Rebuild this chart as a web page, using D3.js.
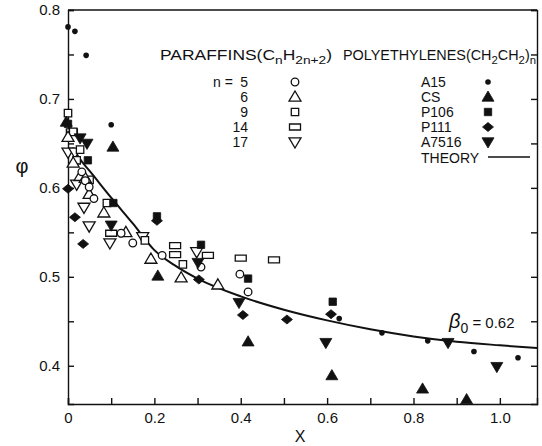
<!DOCTYPE html>
<html>
<head>
<meta charset="utf-8">
<script src="https://cdn.jsdelivr.net/npm/d3@7.9.0/dist/d3.min.js"></script>
<style>
  body { margin: 0; background: #fff; }
  svg { display: block; font-family: "Liberation Sans", "DejaVu Sans", sans-serif; }
  .axis text { font-size: 15px; fill: #111; }
  .axis line, .axis path { stroke: #111; stroke-width: 1.4; }
</style>
</head>
<body>
<svg id="chart" width="542" height="446"></svg>
<script>
// polyethylenes (filled markers): [x, phi]
const a15 = [[0.0, 0.781], [0.016, 0.776], [0.042, 0.749], [0.10, 0.671], [0.628, 0.453],
  [0.727, 0.437], [0.833, 0.428], [0.94, 0.416], [1.042, 0.409]];
const cs = [[-0.004, 0.674], [0.104, 0.646], [0.208, 0.501], [0.417, 0.427], [0.611, 0.389],
  [0.821, 0.374], [0.923, 0.362]];
const p106 = [[0.0, 0.672], [0.046, 0.631], [0.105, 0.583], [0.206, 0.568], [0.308, 0.536],
  [0.417, 0.498], [0.613, 0.472]];
const p111 = [[0.0, 0.599], [0.016, 0.567], [0.035, 0.537], [0.206, 0.563], [0.303, 0.497],
  [0.405, 0.457], [0.507, 0.452], [0.609, 0.458]];
const a7516 = [[0.028, 0.656], [0.044, 0.650], [0.10, 0.558], [0.301, 0.516], [0.396, 0.471],
  [0.597, 0.426], [0.88, 0.426], [0.993, 0.399]];

// paraffins (open markers)
const n5 = [[0.032, 0.618], [0.04, 0.608], [0.049, 0.601], [0.06, 0.588], [0.123, 0.549],
  [0.15, 0.538], [0.218, 0.524], [0.308, 0.511], [0.398, 0.503], [0.417, 0.483]];
const n6 = [[0.0, 0.657], [0.012, 0.628], [0.028, 0.613], [0.04, 0.611], [0.049, 0.593],
  [0.083, 0.572], [0.134, 0.55], [0.192, 0.52], [0.262, 0.499], [0.347, 0.491]];
const n9 = [[0.0, 0.684], [0.012, 0.663], [0.028, 0.643], [0.02, 0.631], [0.05, 0.609],
  [0.09, 0.583], [0.178, 0.541], [0.266, 0.514]];
const n14 = [[0.009, 0.663], [0.1, 0.549], [0.248, 0.535], [0.248, 0.525], [0.324, 0.524],
  [0.40, 0.521], [0.477, 0.519]];
const n17 = [[0.0, 0.640], [0.016, 0.64], [0.02, 0.604], [0.037, 0.578], [0.049, 0.557],
  [0.097, 0.538], [0.173, 0.545], [0.298, 0.528]];

// theory curve, beta0 = 0.62
const theoryX = [0.01, 0.033, 0.05, 0.1, 0.15, 0.2, 0.25, 0.3, 0.4, 0.5, 0.6, 0.7, 0.8, 0.9, 1.0, 1.086];
const theoryPhi = [0.645, 0.629, 0.619, 0.589, 0.560, 0.530, 0.512, 0.498, 0.478, 0.463, 0.451,
  0.441, 0.433, 0.427, 0.423, 0.420];

const xTicks = [0, 0.1, 0.2, 0.3, 0.4, 0.5, 0.6, 0.7, 0.8, 0.9, 1.0];
const yTicks = [0.4, 0.45, 0.5, 0.55, 0.6, 0.65, 0.7, 0.75, 0.8];

const paraffinLabels = ["5", "6", "9", "14", "17"];
const polyLabels = ["A15", "CS", "P106", "P111", "A7516"];

const svg = d3.select("#chart");
const x = d3.scaleLinear().domain([0, 1.086]).range([68, 537]);
const y = d3.scaleLinear().domain([0.357, 0.8]).range([404, 10]);

// marker shapes
function markerPath(type) {
  switch (type) {
    case "triUp": return "M0,-6L6,4.2L-6,4.2Z";
    case "triDown": return "M0,6L6,-4.2L-6,-4.2Z";
    case "square": return "M-3.7,-3.7H3.7V3.7H-3.7Z";
    case "rect": return "M-5.5,-3H5.5V3H-5.5Z";
    case "diamond": return "M-5.5,0L0,-4.5L5.5,0L0,4.5Z";
  }
}

function drawMarker(g, type, filled, px, py) {
  if (type === "dot") {
    g.append("circle").attr("cx", px).attr("cy", py).attr("r", 2.8).attr("fill", "#111");
  } else if (type === "circle") {
    g.append("circle").attr("cx", px).attr("cy", py).attr("r", 3.8)
      .attr("fill", "#fff").attr("stroke", "#111").attr("stroke-width", 1.3);
  } else {
    g.append("path").attr("d", markerPath(type))
      .attr("transform", `translate(${px},${py})`)
      .attr("fill", filled ? "#111" : "#fff")
      .attr("stroke", "#111").attr("stroke-width", filled ? 0.8 : 1.3);
  }
}

const series = [
  { data: n17, type: "triDown", filled: false },
  { data: n14, type: "rect", filled: false },
  { data: n9, type: "square", filled: false },
  { data: n6, type: "triUp", filled: false },
  { data: n5, type: "circle", filled: false },
  { data: a15, type: "dot", filled: true },
  { data: cs, type: "triUp", filled: true },
  { data: p106, type: "square", filled: true },
  { data: p111, type: "diamond", filled: true },
  { data: a7516, type: "triDown", filled: true },
];

// axes
const xAxis = d3.axisBottom(x).tickValues(xTicks).tickSize(-6).tickPadding(8)
  .tickFormat((d) => {
    const k = Math.round(d * 10);
    if (k % 2) return "";
    return k === 0 ? "0" : d3.format(".1f")(d);
  });
svg.append("g").attr("class", "axis").attr("transform", "translate(0,404)").call(xAxis);

const yAxis = d3.axisLeft(y).tickValues(yTicks).tickSize(-6).tickPadding(8)
  .tickFormat((d) => (Math.round(d * 100) % 10 ? "" : d3.format(".1f")(d)));
svg.append("g").attr("class", "axis").attr("transform", "translate(68,0)").call(yAxis);

svg.append("g").attr("class", "axis").attr("transform", "translate(537,0)")
  .call(d3.axisRight(y).tickValues(yTicks).tickSize(-6).tickFormat(""));

svg.append("line").attr("x1", 68).attr("x2", 537).attr("y1", 10).attr("y2", 10)
  .attr("stroke", "#111").attr("stroke-width", 1.4);

svg.append("text").attr("x", 300).attr("y", 442).attr("text-anchor", "middle")
  .attr("font-size", 16).attr("fill", "#111").text("X");
svg.append("text").attr("x", 22).attr("y", 173).attr("text-anchor", "middle")
  .attr("font-size", 20).attr("fill", "#111").text("φ");

// theory curve
const line = d3.line().x((d) => x(d[0])).y((d) => y(d[1])).curve(d3.curveMonotoneX);
svg.append("path").datum(d3.zip(theoryX, theoryPhi)).attr("d", line)
  .attr("fill", "none").attr("stroke", "#111").attr("stroke-width", 2);

// points
const pts = svg.append("g");
series.forEach((s) => {
  s.data.forEach((d) => drawMarker(pts, s.type, s.filled, x(d[0]), y(d[1])));
});

// legend
const lg = svg.append("g").attr("fill", "#111").attr("font-size", 14);
const t1 = lg.append("text").attr("x", 160).attr("y", 60)
  .attr("textLength", 172).attr("lengthAdjust", "spacingAndGlyphs");
t1.append("tspan").text("PARAFFINS(C");
t1.append("tspan").attr("dy", 4).attr("font-size", 11).text("n");
t1.append("tspan").attr("dy", -4).text("H");
t1.append("tspan").attr("dy", 4).attr("font-size", 11).text("2n+2");
t1.append("tspan").attr("dy", -4).text(")");

const t2 = lg.append("text").attr("x", 343).attr("y", 60)
  .attr("textLength", 193).attr("lengthAdjust", "spacingAndGlyphs");
t2.append("tspan").text("POLYETHYLENES(CH");
t2.append("tspan").attr("dy", 4).attr("font-size", 11).text("2");
t2.append("tspan").attr("dy", -4).text("CH");
t2.append("tspan").attr("dy", 4).attr("font-size", 11).text("2");
t2.append("tspan").attr("dy", -4).text(")");
t2.append("tspan").attr("dy", 4).attr("font-size", 11).text("n");

lg.append("text").attr("x", 213).attr("y", 87).text("n =");
const rowY = d3.scalePoint().domain(d3.range(5)).range([82, 142]);
paraffinLabels.forEach((lab, i) => {
  lg.append("text").attr("x", 248).attr("y", rowY(i) + 5).attr("text-anchor", "end").text(lab);
  drawMarker(lg, series[4 - i].type, false, 295, rowY(i));
});
polyLabels.forEach((lab, i) => {
  lg.append("text").attr("x", 421).attr("y", rowY(i) + 5).text(lab);
  drawMarker(lg, series[5 + i].type, true, 488, rowY(i));
});
lg.append("text").attr("x", 421).attr("y", 163).text("THEORY");
lg.append("line").attr("x1", 488).attr("x2", 530).attr("y1", 157).attr("y2", 157)
  .attr("stroke", "#111").attr("stroke-width", 1.6);

const b = lg.append("text").attr("x", 449).attr("y", 328).attr("font-size", 20);
b.append("tspan").attr("font-style", "italic").text("β");
b.append("tspan").attr("dy", 5).attr("font-size", 14).text("0");
b.append("tspan").attr("dy", -5).attr("font-size", 15).text(" = 0.62");
</script>
</body>
</html>
